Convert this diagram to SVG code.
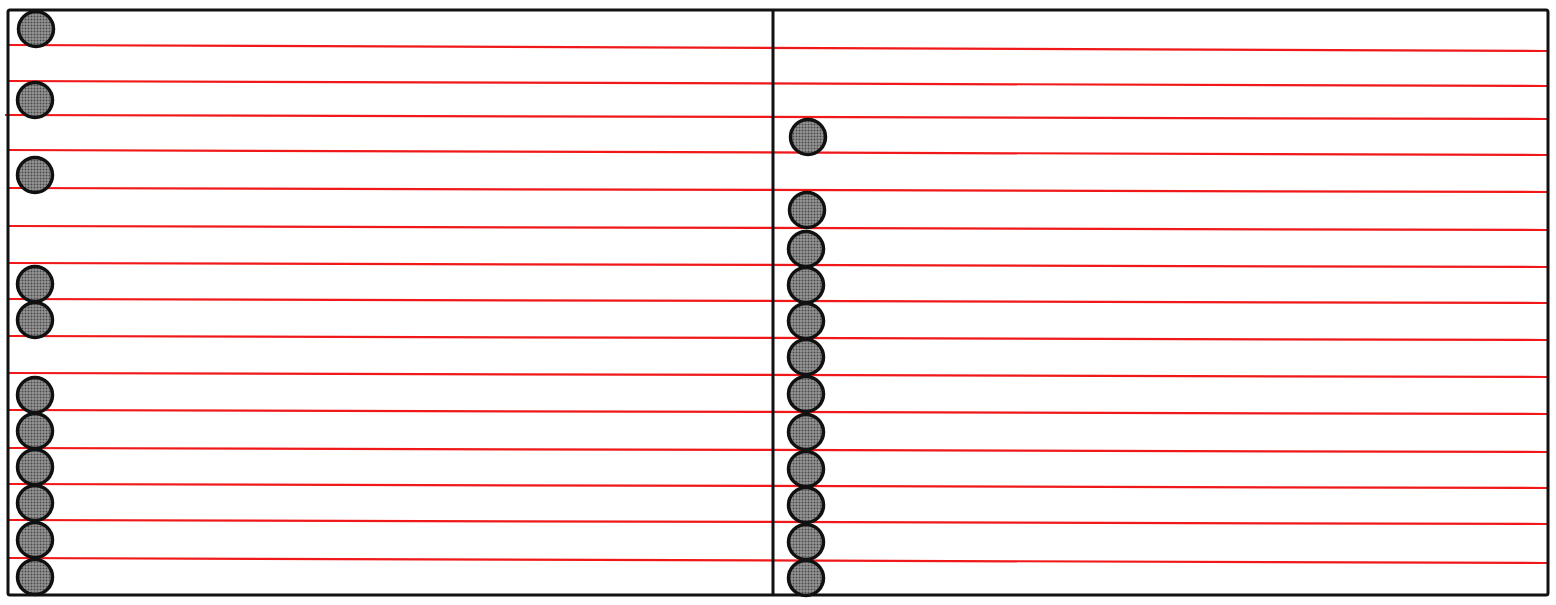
<svg xmlns="http://www.w3.org/2000/svg" width="1556" height="605" viewBox="0 0 1556 605">
<style>
.frame{fill:none;stroke:#111;stroke-width:3}
.rule{stroke:#f01818;stroke-width:2.2;fill:none}
.dot{fill:url(#halftone);stroke:#111;stroke-width:3.5}
</style>
<defs>
<pattern id="halftone" width="3" height="3" patternUnits="userSpaceOnUse">
<rect width="3" height="3" fill="#969696"/>
<circle cx="1.5" cy="1.5" r="1" fill="#4a4a4a"/>
</pattern>
</defs>
<rect x="0" y="0" width="1556" height="605" fill="#fff"/>
<g id="rules">
<line class="rule" x1="8" y1="45" x2="1547" y2="51"/>
<line class="rule" x1="8" y1="81" x2="1547" y2="86"/>
<line class="rule" x1="5" y1="115" x2="1547" y2="119"/>
<line class="rule" x1="8" y1="150" x2="1547" y2="155"/>
<line class="rule" x1="8" y1="188" x2="1547" y2="192"/>
<line class="rule" x1="8" y1="226" x2="1547" y2="230"/>
<line class="rule" x1="8" y1="263" x2="1547" y2="267"/>
<line class="rule" x1="8" y1="299" x2="1547" y2="303"/>
<line class="rule" x1="8" y1="336" x2="1547" y2="340"/>
<line class="rule" x1="8" y1="373" x2="1547" y2="377"/>
<line class="rule" x1="8" y1="410" x2="1547" y2="414"/>
<line class="rule" x1="8" y1="448" x2="1547" y2="452"/>
<line class="rule" x1="8" y1="484" x2="1547" y2="488"/>
<line class="rule" x1="8" y1="520" x2="1547" y2="524"/>
<line class="rule" x1="8" y1="558" x2="1547" y2="563"/>
</g>
<g id="frame">
<rect class="frame" x="8" y="10" width="1540" height="585" rx="2"/>
<line class="frame" x1="773" y1="10" x2="773" y2="595"/>
</g>
<g id="left-column">
<circle id="L1" class="dot" cx="36" cy="29" r="17.5"/>
<circle id="L2" class="dot" cx="35" cy="100" r="17.5"/>
<circle id="L3" class="dot" cx="35" cy="175" r="17.5"/>
<circle id="L4" class="dot" cx="35" cy="284" r="17.5"/>
<circle id="L5" class="dot" cx="35" cy="320" r="17.5"/>
<circle id="L6" class="dot" cx="35" cy="395" r="17.5"/>
<circle id="L7" class="dot" cx="35" cy="431" r="17.5"/>
<circle id="L8" class="dot" cx="35" cy="467" r="17.5"/>
<circle id="L9" class="dot" cx="35" cy="503" r="17.5"/>
<circle id="L10" class="dot" cx="35" cy="540" r="17.5"/>
<circle id="L11" class="dot" cx="35" cy="577" r="17.5"/>
</g>
<g id="right-column">
<circle id="R1" class="dot" cx="808" cy="137" r="17.5"/>
<circle id="R2" class="dot" cx="807" cy="210" r="17.5"/>
<circle id="R3" class="dot" cx="806" cy="249" r="17.5"/>
<circle id="R4" class="dot" cx="806" cy="285" r="17.5"/>
<circle id="R5" class="dot" cx="806" cy="321" r="17.5"/>
<circle id="R6" class="dot" cx="806" cy="357" r="17.5"/>
<circle id="R7" class="dot" cx="806" cy="394" r="17.5"/>
<circle id="R8" class="dot" cx="806" cy="432" r="17.5"/>
<circle id="R9" class="dot" cx="806" cy="469" r="17.5"/>
<circle id="R10" class="dot" cx="806" cy="505" r="17.5"/>
<circle id="R11" class="dot" cx="806" cy="542" r="17.5"/>
<circle id="R12" class="dot" cx="806" cy="578" r="17.5"/>
</g>
</svg>
